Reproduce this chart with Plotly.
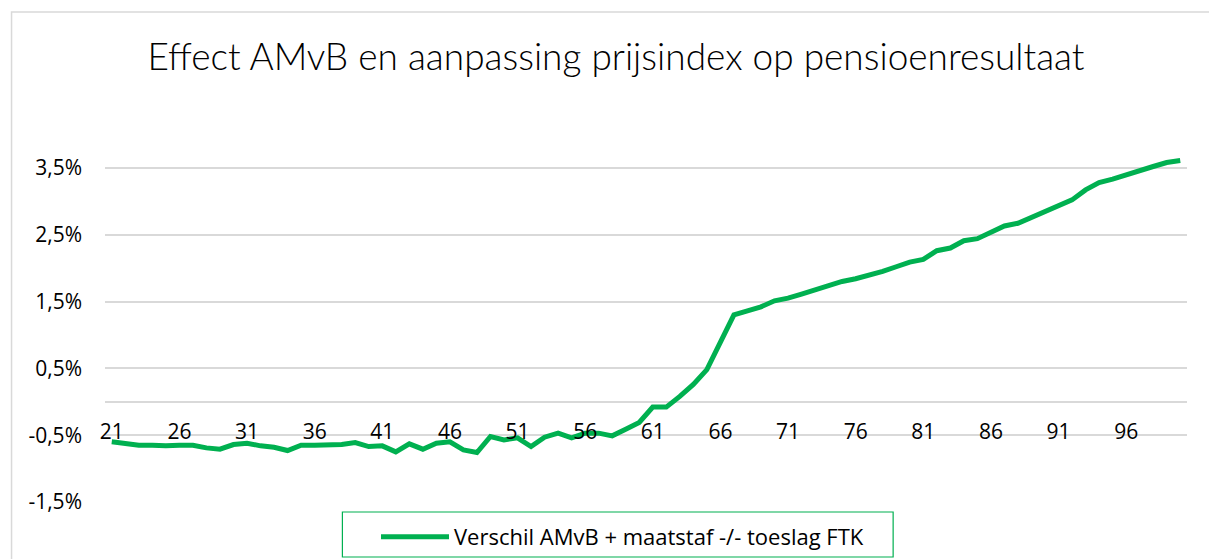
import plotly.graph_objects as go

ages = list(range(21, 101))
verschil_pct = [
    -0.60, -0.63, -0.65, -0.65, -0.66, -0.65, -0.65, -0.69, -0.71, -0.64,
    -0.62, -0.66, -0.68, -0.73, -0.65, -0.65, -0.65, -0.64, -0.61, -0.67,
    -0.66, -0.75, -0.63, -0.71, -0.62, -0.60, -0.72, -0.76, -0.52, -0.57,
    -0.54, -0.67, -0.53, -0.47, -0.54, -0.47, -0.47, -0.51, -0.41, -0.31,
    -0.08, -0.08, 0.08, 0.26, 0.48, 0.88, 1.30, 1.36, 1.42, 1.51,
    1.55, 1.61, 1.67, 1.73, 1.80, 1.84, 1.89, 1.95, 2.02, 2.09,
    2.13, 2.26, 2.30, 2.41, 2.44, 2.54, 2.63, 2.67, 2.76, 2.85,
    2.94, 3.02, 3.17, 3.28, 3.33, 3.40, 3.45, 3.52, 3.58, 3.61,
]
y_ticks = [-0.015, -0.005, 0.005, 0.015, 0.025, 0.035]
y_labels = ["-1,5%", "-0,5%", "0,5%", "1,5%", "2,5%", "3,5%"]
x_ticks = [21, 26, 31, 36, 41, 46, 51, 56, 61, 66, 71, 76, 81, 86, 91, 96]

title_text = "Effect AMvB en aanpassing prijsindex op pensioenresultaat"
series_name = "Verschil AMvB + maatstaf -/- toeslag FTK"

GREEN = "#00B050"
GRID = "#D9D9D9"
FONT = "Open Sans"

W, H = 1209, 559
ml, mr, mt, mb = 104.5, 22, 101, 57
ph = H - mt - mb
pw = W - ml - mr

fig = go.Figure()
fig.add_trace(go.Scatter(
    x=ages, y=[v / 100 for v in verschil_pct],
    mode="lines", name=series_name,
    line=dict(color=GREEN, width=5),
))

def py(pix):
    return (H - mb - pix) / ph

def px(pix):
    return (pix - ml) / pw

fig.update_layout(
    width=W, height=H,
    margin=dict(l=ml, r=mr, t=mt, b=mb, autoexpand=False),
    paper_bgcolor="white", plot_bgcolor="white",
    title=dict(text=title_text, x=616 / W, xanchor="center",
               y=1 - 57 / H, yanchor="middle",
               font=dict(family="Lato", size=37, color="#000000", weight=300)),
    showlegend=True,
    legend=dict(x=376 / W, xanchor="left", xref="container",
                y=1 - 537 / H, yanchor="middle", yref="container",
                itemwidth=68,
                font=dict(family=FONT, size=22, color="#000000"),
                bgcolor="rgba(0,0,0,0)", borderwidth=0),
    xaxis=dict(range=[20.5, 100.5], tickmode="array", tickvals=x_ticks,
               ticktext=[str(t) for t in x_ticks],
               showgrid=False, showline=False, zeroline=False, ticks="",
               anchor="free", position=py(402), ticklabelstandoff=15,
               tickfont=dict(family=FONT, size=21, color="#000000")),
    yaxis=dict(range=[-0.015, 0.045], tickmode="array", tickvals=y_ticks,
               ticktext=y_labels,
               showgrid=True, gridcolor=GRID, gridwidth=1.5,
               zeroline=True, zerolinecolor=GRID, zerolinewidth=1.5,
               showline=False, ticks="", ticklabelstandoff=22,
               tickfont=dict(family=FONT, size=21, color="#000000")),
    shapes=[
        dict(type="rect", xref="paper", yref="paper",
             x0=px(342), x1=px(893), y0=py(557), y1=py(512),
             line=dict(color=GREEN, width=1.2), fillcolor="rgba(0,0,0,0)"),
        dict(type="rect", xref="paper", yref="paper",
             x0=px(11), x1=px(1230), y0=py(600), y1=py(12),
             line=dict(color=GRID, width=1.5), fillcolor="rgba(0,0,0,0)"),
    ],
)

fig.write_html("out.html", config={"displayModeBar": False},
               post_script="document.body.style.margin='0';document.body.style.overflow='hidden';")
